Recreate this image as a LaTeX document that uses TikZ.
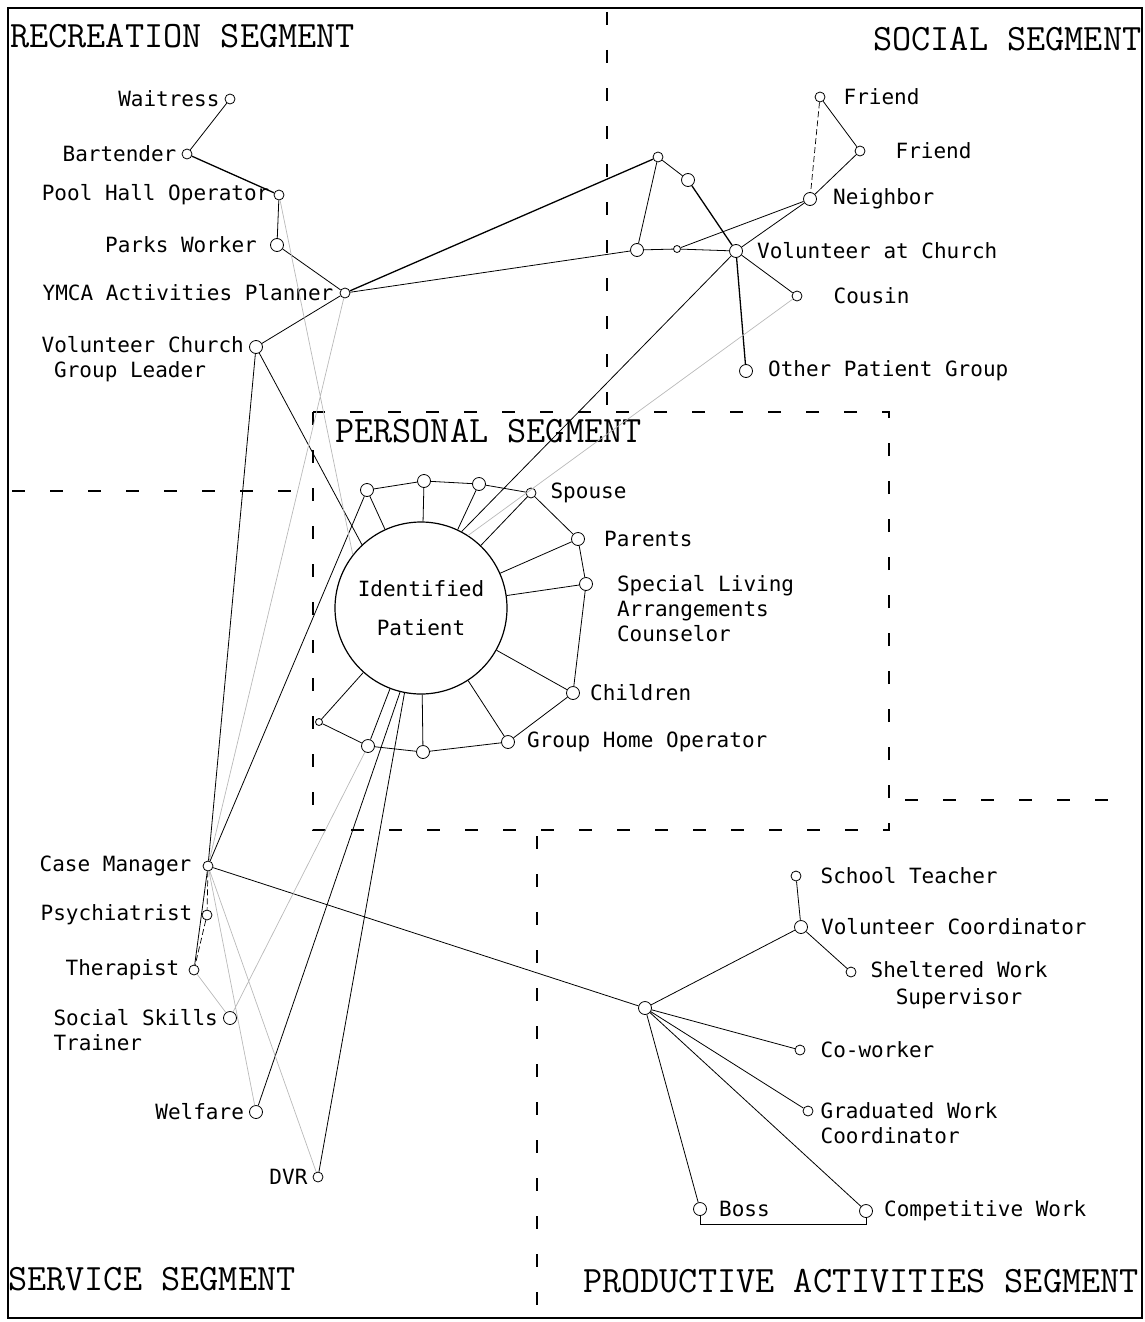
\documentclass[tikz,border=0pt]{standalone}
\usepackage{fontspec}
\newfontfamily\namefont{DejaVu Sans Mono}

\tikzset{
   Person/.style={circle, draw, line width=0.8pt, inner sep=0pt, minimum size=10pt},
   BigPerson/.style={Person, minimum size=13pt},
   SmallPerson/.style={Person, minimum size=7pt},
   Name/.style={font=\namefont\fontsize{21}{25}\selectfont, inner sep=0pt, align=left},
   every label/.style={Name},
   SegmentName/.style={font=\ttfamily\fontsize{37.2}{40}\selectfont, inner sep=0pt, anchor=base west},
   Divider/.style={line width=1.8pt, dash pattern=on 13pt off 25pt}
}

\begin{document}
\begin{tikzpicture}[x=1pt, y=-1pt]
   \useasboundingbox (0,0) rectangle (1145,1322);
   \draw[line width=1.5pt] (8,8) rectangle (1142,1318);

   \draw[Divider] (607,12) -- (607,408);
   \draw[Divider] (12,491) -- (305,491);
   \draw[Divider] (313,412) rectangle (889,830);
   \draw[Divider] (905,800) -- (1122,800);
   \draw[Divider] (537,836) -- (537,1310);

   \node[SegmentName] (recreation) at (10,48) {RECREATION SEGMENT};
   \node[SegmentName] (social) at (873,51) {SOCIAL SEGMENT};
   \node[SegmentName] (personal) at (335,442) {PERSONAL SEGMENT};
   \node[SegmentName] (service) at (8,1290) {SERVICE SEGMENT};
   \node[SegmentName] (productive) at (583,1292) {PRODUCTIVE ACTIVITIES SEGMENT};

   \node[Name, draw, circle, line width=1.2pt, minimum size=172pt, align=center] (patient) at (421,608) {Identified\\[14pt]Patient};

   \node[Person, label={[xshift=-5pt]left:Waitress}] (wait) at (230,99) {};
   \node[Person, label={[xshift=-5pt]left:Bartender}] (bart) at (187,154) {};
   \node[Person, label={[xshift=-4pt]left:Pool Hall Operator}] (pool) at (279,195) {};
   \node[BigPerson, label={[xshift=-13pt]left:Parks Worker}] (parks) at (277,245) {};
   \node[Person, label={[xshift=-6pt]left:YMCA Activities Planner}] (ymca) at (345,293) {};
   \node[BigPerson, label={[xshift=-5pt, yshift=-12.5pt]left:{Volunteer Church\\\hspace*{0.6em}Group Leader}}] (vcgl) at (256,347) {};

   \node[Person] (s1) at (658,157) {};
   \node[BigPerson] (s2) at (688,180) {};
   \node[BigPerson] (s3) at (637,250) {};
   \node[SmallPerson] (s4) at (677,249) {};
   \node[BigPerson, label={[xshift=14pt]right:Volunteer at Church}] (vchurch) at (736,251) {};
   \node[Person, label={[xshift=18pt]right:Friend}] (friend1) at (820,97) {};
   \node[Person, label={[xshift=30pt]right:Friend}] (friend2) at (860,151) {};
   \node[BigPerson, label={[xshift=16pt]right:Neighbor}] (neighbor) at (810,199) {};
   \node[Person, label={[xshift=31pt]right:Cousin}] (cousin) at (797,296) {};
   \node[BigPerson, label={[xshift=15pt]right:Other Patient Group}] (other) at (746,371) {};

   \node[BigPerson] (r1) at (367,490) {};
   \node[BigPerson] (r2) at (424,481) {};
   \node[BigPerson] (r3) at (479,484) {};
   \node[Person, label={[xshift=14pt]right:Spouse}] (spouse) at (531,493) {};
   \node[BigPerson, label={[xshift=19pt]right:Parents}] (parents) at (578,539) {};
   \node[BigPerson, label={[xshift=24pt, yshift=-24.5pt]right:{Special Living\\Arrangements\\Counselor}}] (living) at (586,584) {};
   \node[BigPerson, label={[xshift=10pt]right:Children}] (children) at (573,693) {};
   \node[BigPerson, label={[xshift=12pt]right:Group Home Operator}] (grouphome) at (508,742) {};
   \node[BigPerson] (r9) at (423,752) {};
   \node[BigPerson] (r10) at (368,746) {};
   \node[SmallPerson] (r11) at (319,722) {};

   \node[Person, label={[xshift=-11pt]left:Case Manager}] (casemgr) at (208,866) {};
   \node[Person, label={[xshift=-9pt]left:Psychiatrist}] (psych) at (207,915) {};
   \node[Person, label={[xshift=-9pt]left:Therapist}] (therapist) at (194,970) {};
   \node[BigPerson, label={[xshift=-5pt, yshift=-12.5pt]left:{Social Skills\\Trainer}}] (skills) at (230,1018) {};
   \node[BigPerson, label={[xshift=-5pt]left:Welfare}] (welfare) at (256,1112) {};
   \node[Person, label={[xshift=-5pt]left:DVR}] (dvr) at (318,1177) {};

   \node[BigPerson] (hub) at (645,1008) {};
   \node[Person, label={[xshift=19pt]right:School Teacher}] (teacher) at (796,876) {};
   \node[BigPerson, label={[xshift=13pt]right:Volunteer Coordinator}] (volcoord) at (801,927) {};
   \node[Person, label={[xshift=14pt, yshift=-13.5pt]right:{Sheltered Work\\[2pt]\hspace*{1.2em}Supervisor}}] (sheltered) at (851,972) {};
   \node[Person, label={[xshift=15pt]right:Co-worker}] (coworker) at (800,1050) {};
   \node[Person, label={[xshift=7pt, yshift=-12.5pt]right:{Graduated Work\\Coordinator}}] (gradwork) at (808,1111) {};
   \node[BigPerson, label={[xshift=12pt]right:Boss}] (boss) at (700,1209) {};
   \node[BigPerson, label={[xshift=11pt]right:Competitive Work}] (compwork) at (866,1211) {};

   \tikzset{LinkStyle/.style={line width=0.8pt}}
   \draw[LinkStyle] (wait) -- (bart) (pool) -- (parks) -- (ymca) -- (vcgl) -- (casemgr);
   \draw[LinkStyle] (ymca) -- (s3) -- (s4) -- (vchurch) (s1) -- (s3) (s1) -- (s2);
   \draw[LinkStyle] (s4) -- (neighbor) -- (vchurch) -- (cousin) (friend1) -- (friend2) -- (neighbor);
   \draw[LinkStyle] (vcgl) -- (patient.133) (vchurch) -- (patient.62);
   \draw[LinkStyle] (r1) -- (r2) -- (r3) -- (spouse) -- (parents) -- (living) -- (children) -- (grouphome) -- (r9) -- (r10) -- (r11);
   \draw[LinkStyle] (r1) -- (patient) (r2) -- (patient) (r3) -- (patient) (spouse) -- (patient) (parents) -- (patient) (living) -- (patient);
   \draw[LinkStyle] (children) -- (patient) (grouphome) -- (patient) (r9) -- (patient) (r10) -- (patient) (r11) -- (patient);
   \draw[LinkStyle] (r1) -- (casemgr) -- (therapist) (welfare) -- (patient.256) (dvr) -- (patient.259);
   \draw[LinkStyle] (casemgr) -- (hub) -- (volcoord) -- (teacher) (volcoord) -- (sheltered);
   \draw[LinkStyle] (hub) -- (coworker) (hub) -- (gradwork) (hub) -- (compwork) (hub) -- (boss);
   \draw[LinkStyle] (boss.south) -- ++(0,8) -| (compwork.south);

   \tikzset{LinkStyle/.append style={line width=1.3pt}}
   \draw[LinkStyle] (bart) -- (pool) (ymca) -- (s1) (s2) -- (vchurch) -- (other);

   \tikzset{LinkStyle/.style={line width=0.7pt, gray!55}}
   \draw[LinkStyle] (pool) -- (patient.142) (ymca) -- (casemgr) (cousin) -- (patient.57);
   \draw[LinkStyle] (therapist) -- (skills) (casemgr) -- (welfare) (casemgr) -- (dvr) (r10) -- (skills);

   \tikzset{LinkStyle/.append style={black, dash pattern=on 6pt off 3pt}}
   \draw[LinkStyle] (friend1) -- (neighbor) (casemgr) -- (psych) -- (therapist);
\end{tikzpicture}
\end{document}
